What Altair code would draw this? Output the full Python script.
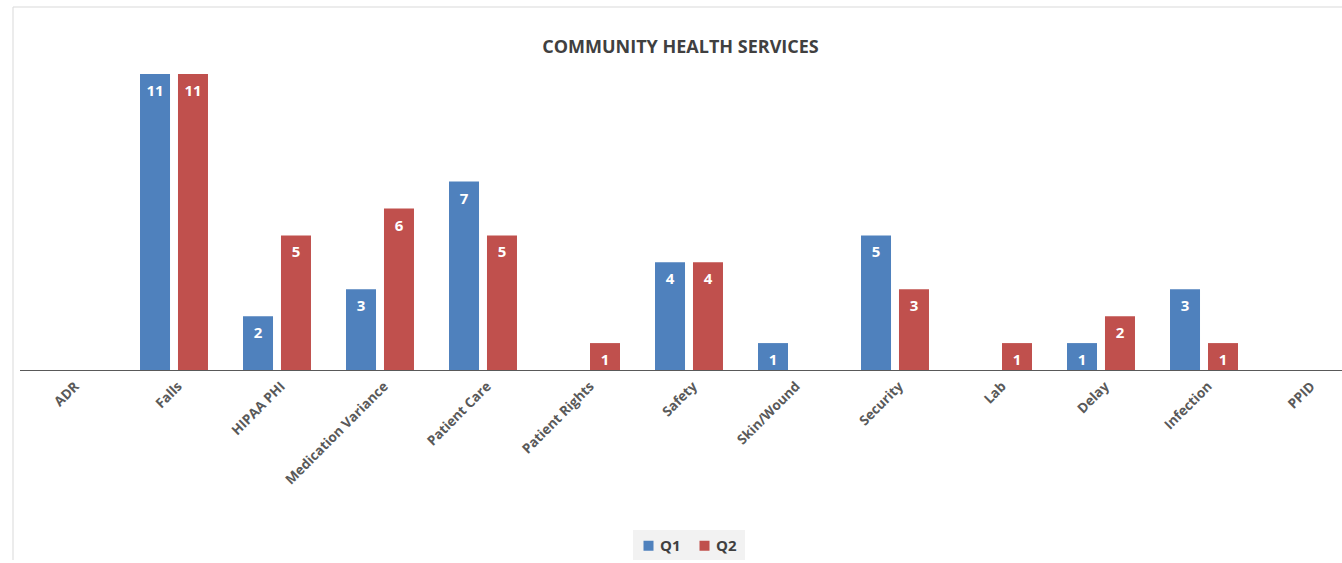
import altair as alt
import pandas as pd

# ---- data ----
categories = ["ADR", "Falls", "HIPAA PHI", "Medication Variance", "Patient Care",
              "Patient Rights", "Safety", "Skin/Wound", "Security", "Lab",
              "Delay", "Infection", "PPID"]
q1_values = [None, 11, 2, 3, 7, None, 4, 1, 5, None, 1, 3, None]
q2_values = [None, 11, 5, 6, 5, 1, 4, None, 3, 1, 2, 1, None]
series = ["Q1", "Q2"]
colors = ["#4F81BD", "#C0504D"]
title_text = "COMMUNITY HEALTH SERVICES"

rows = []
for cat, a, b in zip(categories, q1_values, q2_values):
    rows.append({"category": cat, "quarter": "Q1", "value": a})
    rows.append({"category": cat, "quarter": "Q2", "value": b})
df = pd.DataFrame(rows)

FONT = "Open Sans"
W, H = 1322, 323

x_enc = alt.X(
    "category:N",
    sort=categories,
    scale=alt.Scale(domain=categories, range=[0, 1339], paddingInner=0.34, paddingOuter=0.17),
    axis=alt.Axis(
        title=None, labelAngle=-45, labelAlign="right", labelBaseline="middle",
        labelFont=FONT, labelFontWeight="bold", labelFontSize=13.5, labelColor="#595959",
        ticks=False, domainColor="#595959", domainWidth=1,
        labelPadding=14, labelOffset=6, labelOverlap=False,
    ),
)
xoff_enc = alt.XOffset("quarter:N", scale=alt.Scale(domain=series, paddingInner=0.21, paddingOuter=0))
y_enc = alt.Y("value:Q", scale=alt.Scale(domain=[0, 12], nice=False), axis=None)

bars = alt.Chart(df).mark_bar().encode(
    x=x_enc,
    xOffset=xoff_enc,
    y=y_enc,
    color=alt.Color(
        "quarter:N",
        scale=alt.Scale(domain=series, range=colors),
        legend=alt.Legend(
            orient="none", legendX=613.5, legendY=483, direction="horizontal",
            title=None, symbolType="square", symbolSize=100, symbolStrokeWidth=0,
            labelFont=FONT, labelFontSize=15, labelFontWeight="bold", labelColor="#404040",
            fillColor="#f2f2f2", padding=8, columnPadding=16,
        ),
    ),
)

labels = alt.Chart(df).mark_text(
    color="white", font=FONT, fontWeight="bold", fontSize=15, baseline="middle", dy=17
).encode(
    x=x_enc,
    xOffset=xoff_enc,
    y=y_enc,
    text=alt.Text("value:Q", format="d"),
)

border = alt.Chart(pd.DataFrame({"k": [0]})).mark_rect(
    fillOpacity=0, stroke="#d9d9d9", strokeWidth=1
).encode(
    x=alt.value(-6.5), x2=alt.value(1400), y=alt.value(-40), y2=alt.value(700)
)

chart = alt.layer(border, bars, labels).properties(
    width=W,
    height=H,
    title=alt.TitleParams(
        title_text, font=FONT, fontSize=18, fontWeight="bold", color="#404040",
        anchor="middle", frame="group", offset=-50,
    ),
    autosize=alt.AutoSizeParams(type="none"),
    padding={"left": 19.5, "top": 47, "right": 0, "bottom": 190},
).configure_view(stroke=None)

chart.save("out.html", embed_options={"renderer": "svg", "actions": False})
